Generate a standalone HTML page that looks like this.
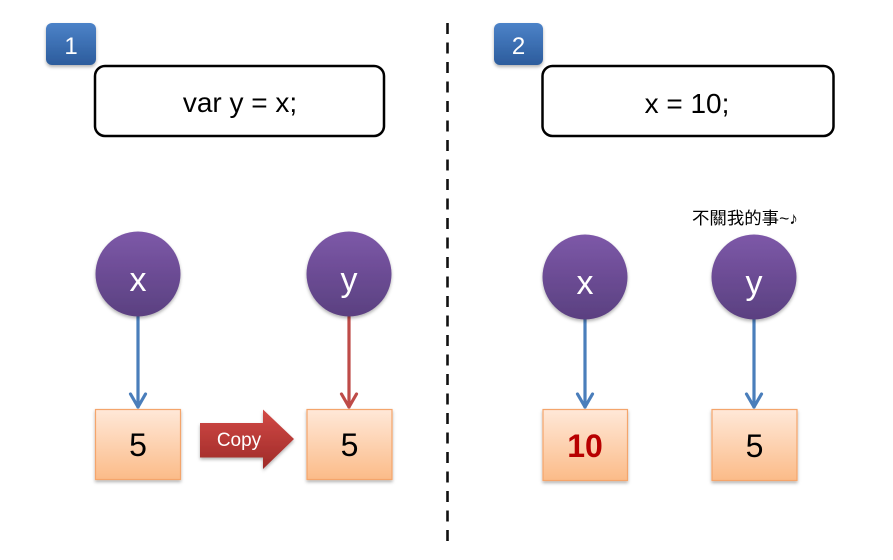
<!DOCTYPE html>
<html><head><meta charset="utf-8"><style>
html,body{margin:0;padding:0;background:#fff;}
svg{display:block;}
</style></head><body>
<svg width="893" height="560" viewBox="0 0 893 560" xmlns="http://www.w3.org/2000/svg">
<defs>
<linearGradient id="badge" x1="0" y1="0" x2="0" y2="1">
<stop offset="0" stop-color="#4c82c8"/><stop offset="1" stop-color="#2c5c9c"/>
</linearGradient>
<linearGradient id="circ" x1="0" y1="0" x2="0" y2="1">
<stop offset="0" stop-color="#7d58a8"/><stop offset="1" stop-color="#5a4080"/>
</linearGradient>
<linearGradient id="box" x1="0" y1="0" x2="0" y2="1">
<stop offset="0" stop-color="#ffe8d8"/><stop offset="1" stop-color="#fbbb88"/>
</linearGradient>
<linearGradient id="copy" x1="0" y1="0" x2="0" y2="1">
<stop offset="0" stop-color="#d24a46"/><stop offset="1" stop-color="#9e2a28"/>
</linearGradient>
<filter id="sh" x="-20%" y="-20%" width="140%" height="150%">
<feDropShadow dx="0" dy="2" stdDeviation="1.5" flood-color="#000" flood-opacity="0.3"/>
</filter>
</defs>

<!-- dashed divider -->
<line x1="447.5" y1="23" x2="447.5" y2="545" stroke="#111" stroke-width="2.6" stroke-dasharray="11 8.5"/>

<!-- badges -->
<rect x="46" y="23" width="50" height="42" rx="6" fill="url(#badge)" filter="url(#sh)"/>
<text x="71" y="54" font-family="Liberation Sans, sans-serif" font-size="24" fill="#fff" text-anchor="middle">1</text>
<rect x="494" y="23" width="49" height="42" rx="6" fill="url(#badge)" filter="url(#sh)"/>
<text x="518.5" y="54" font-family="Liberation Sans, sans-serif" font-size="24" fill="#fff" text-anchor="middle">2</text>

<!-- code boxes -->
<rect x="95" y="66" width="289" height="70" rx="10" fill="#fff" stroke="#000" stroke-width="2.5"/>
<text x="240" y="112" font-family="Liberation Sans, sans-serif" font-size="28" fill="#000" text-anchor="middle">var y = x;</text>
<rect x="542.5" y="66" width="291" height="70" rx="10" fill="#fff" stroke="#000" stroke-width="2.5"/>
<text x="687" y="113" font-family="Liberation Sans, sans-serif" font-size="28" fill="#000" text-anchor="middle">x = 10;</text>

<!-- annotation -->
<text x="692" y="224" font-family="Liberation Sans, 'Noto Sans CJK TC', sans-serif" font-size="17" fill="#000" textLength="106" lengthAdjust="spacingAndGlyphs">不關我的事~♪</text>

<!-- connectors -->
<g stroke-width="3.2" fill="none" stroke-linecap="round" stroke-linejoin="round">
<g stroke="#4a7ebb">
<line x1="138" y1="317" x2="138" y2="407"/><polyline points="130.5,394 138,407 145.5,394"/>
<line x1="585" y1="319" x2="585" y2="407"/><polyline points="577.5,394 585,407 592.5,394"/>
<line x1="754" y1="319" x2="754" y2="407"/><polyline points="746.5,394 754,407 761.5,394"/>
</g>
<g stroke="#be4b48">
<line x1="349" y1="317" x2="349" y2="407"/><polyline points="341.5,394 349,407 356.5,394"/>
</g>
</g>

<!-- circles -->
<g filter="url(#sh)">
<circle cx="138" cy="274" r="42.5" fill="url(#circ)"/>
<circle cx="349" cy="274" r="42.5" fill="url(#circ)"/>
<circle cx="585" cy="277" r="42.5" fill="url(#circ)"/>
<circle cx="754" cy="277" r="42.5" fill="url(#circ)"/>
</g>
<g font-family="Liberation Sans, sans-serif" font-size="34" fill="#fff" text-anchor="middle">
<text x="138" y="291">x</text>
<text x="349" y="291">y</text>
<text x="585" y="294">x</text>
<text x="754" y="294">y</text>
</g>

<!-- value boxes -->
<g filter="url(#sh)" stroke="#f4a56c" stroke-width="1.2" fill="url(#box)">
<rect x="95.5" y="409.5" width="85" height="70"/>
<rect x="307" y="409.5" width="85" height="70"/>
<rect x="543" y="409.5" width="84.5" height="71"/>
<rect x="712" y="409.5" width="85" height="71"/>
</g>
<g font-family="Liberation Sans, sans-serif" font-size="32" fill="#000" text-anchor="middle">
<text x="138" y="456">5</text>
<text x="349.5" y="456">5</text>
<text x="754.5" y="457">5</text>
</g>
<text x="585" y="457" font-family="Liberation Sans, sans-serif" font-size="32" font-weight="bold" fill="#b80000" text-anchor="middle">10</text>

<!-- copy arrow -->
<polygon points="200,423 263,423 263,409.5 294,439 263,469 263,457.5 200,457.5" fill="url(#copy)" filter="url(#sh)"/>
<text x="239" y="446" font-family="Liberation Sans, sans-serif" font-size="19" fill="#fff" text-anchor="middle">Copy</text>
</svg>
</body></html>
